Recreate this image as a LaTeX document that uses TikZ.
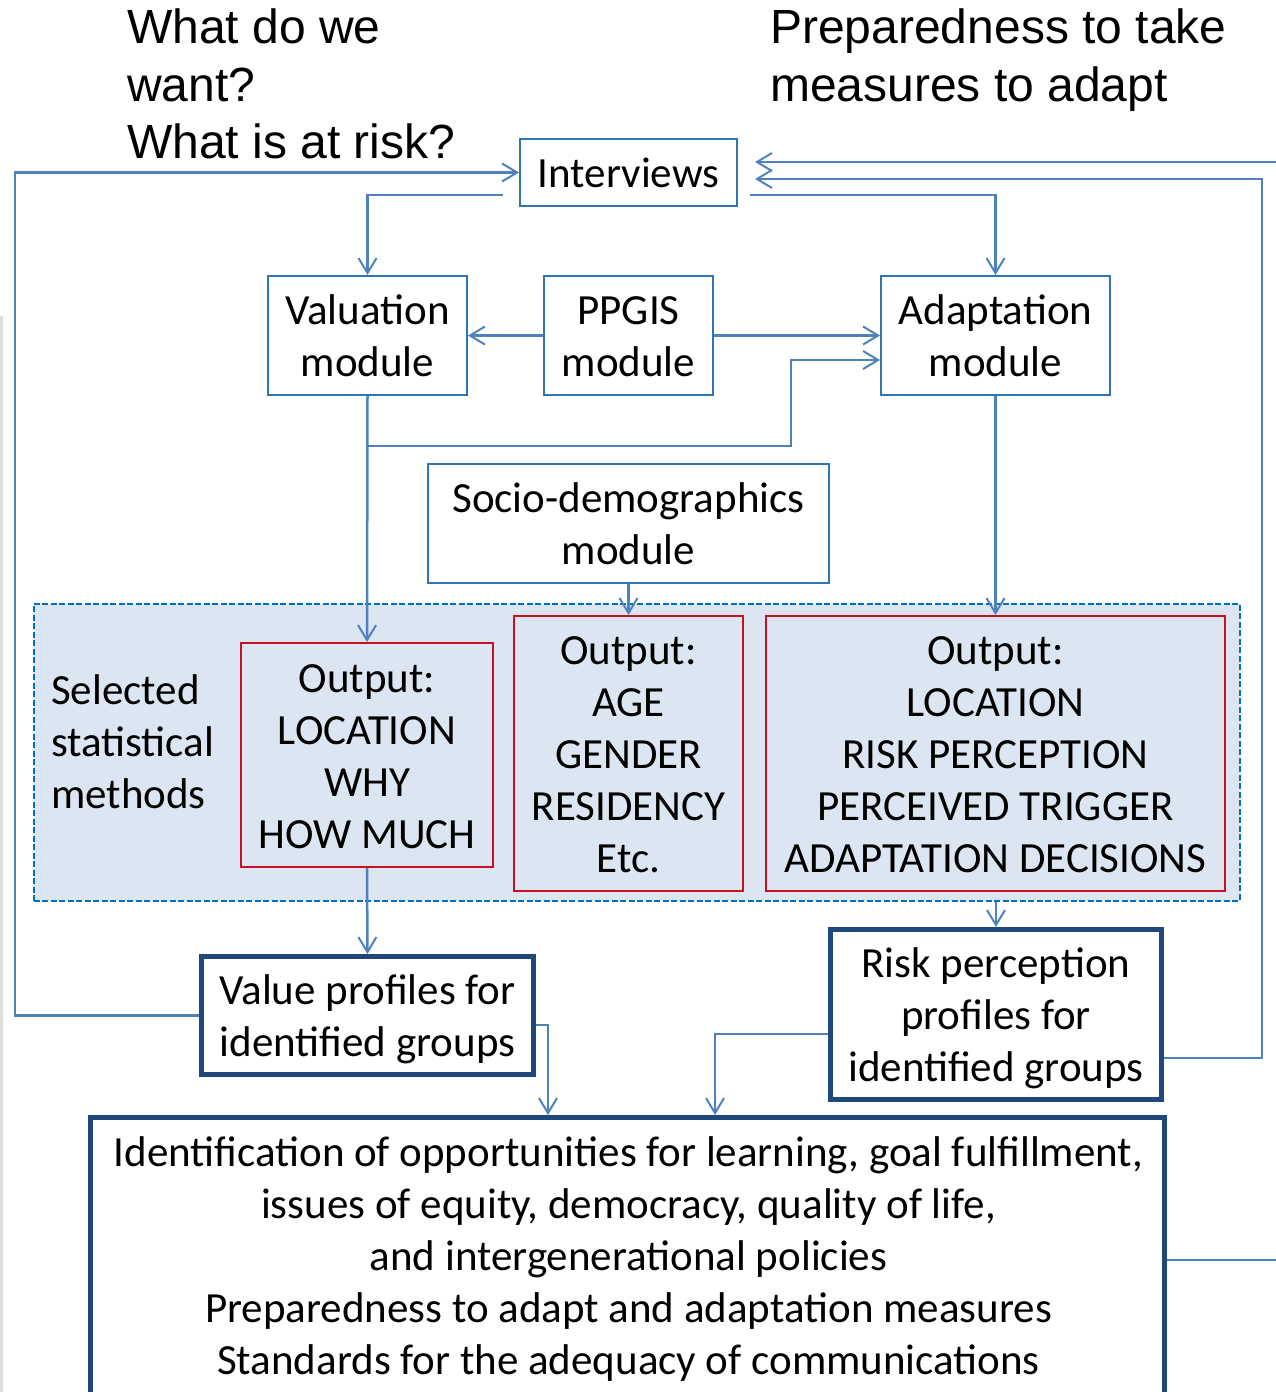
\documentclass[tikz,border=0pt]{standalone}
\usepackage{fontspec}
\setmainfont{Carlito}
\newfontfamily\arialf{Liberation Sans}
\usetikzlibrary{arrows.meta,calc}
\definecolor{boxblue}{HTML}{2E75B6}
\definecolor{linkblue}{HTML}{4F81BD}
\definecolor{navy}{HTML}{1F497D}
\definecolor{redline}{HTML}{C8101E}
\definecolor{panelfill}{HTML}{DCE6F2}
\definecolor{panelline}{HTML}{0070C0}
\definecolor{stripgray}{HTML}{E0DED8}
\begin{document}
\begin{tikzpicture}[x=1pt,y=-1pt,
  every node/.style={font=\fontsize{43}{52}\selectfont, align=center, inner sep=0pt},
  lineone/.style={text height=39pt, text depth=9pt},
  linetwo/.style={text height=91pt, text depth=9pt},
  linethree/.style={text height=143pt, text depth=9pt},
  linefour/.style={text height=195pt, text depth=9pt},
  linefive/.style={text height=247pt, text depth=9pt},
  thinbox/.style={draw=boxblue, line width=2pt},
  redbox/.style={draw=redline, line width=2pt},
  thickbox/.style={draw=navy, line width=5pt},
  link/.style={draw=linkblue, line width=2.5pt, -{Straight Barb[length=15pt,width=18pt,line width=2pt]}},
  plainlink/.style={draw=linkblue, line width=2.5pt},
  toptext/.style={font=\arialf\fontsize{48}{57.5}\selectfont, align=left}
]
\useasboundingbox (0,0) rectangle (1276,1392);
\clip (0,0) rectangle (1276,1392);
\fill[stripgray] (0,316) rectangle (3,1392);

\node[toptext, anchor=north west] (want) at (127,9) {What do we\\want?\\What is at risk?};
\node[toptext, anchor=north west] (prep) at (770,9) {Preparedness to take\\measures to adapt};

\node[thinbox, lineone, minimum width=217, minimum height=67] (int) at (628.5,172.5) {Interviews};
\node[thinbox, linetwo, minimum width=199, minimum height=119] (val) at (367.5,335.5) {Valuation\\module};
\node[thinbox, linetwo, minimum width=169, minimum height=119] (ppg) at (628.5,335.5) {PPGIS\\module};
\node[thinbox, linetwo, minimum width=229, minimum height=119] (ada) at (995.5,335.5) {Adaptation\\module};
\node[thinbox, linetwo, minimum width=401, minimum height=119] (soc) at (628.5,523.5) {Socio-demographics\\module};

\node[draw=panelline, fill=panelfill, line width=2pt, dash pattern=on 6pt off 2.5pt,
      minimum width=1206, minimum height=297] (panel) at (636.5,752) {};
\node[anchor=west, align=left] (methods) at (51,742) {Selected\\statistical\\methods};
\node[redbox, linefour, minimum width=252, minimum height=224] (out1) at (367,755) {Output:\\LOCATION\\WHY\\HOW MUCH};
\node[redbox, linefive, minimum width=229, minimum height=275] (out2) at (628.5,753.5) {Output:\\AGE\\GENDER\\RESIDENCY\\Etc.};
\node[redbox, linefive, minimum width=459, minimum height=275] (out3) at (995.5,753.5) {Output:\\LOCATION\\RISK PERCEPTION\\PERCEIVED TRIGGER\\ADAPTATION DECISIONS};

\node[thickbox, linetwo, minimum width=332, minimum height=118] (vp) at (367.5,1015.5) {Value profiles for\\identified groups};
\node[thickbox, linethree, minimum width=331, minimum height=170] (rp) at (996,1014.5) {Risk perception\\profiles for\\identified groups};
\node[thickbox, minimum width=1074, minimum height=330, anchor=north west] (bot) at (88,1115) {};
\node[linefive] (bottxt) at (628.5,1255.5) {Identification of opportunities for learning, goal fulfillment,\\issues of equity, democracy, quality of life,\\and intergenerational policies\\Preparedness to adapt and adaptation measures\\Standards for the adequacy of communications};

% connectors
\draw[link] ($(int.west)+(-16,22.5)$) -| (val.north);
\draw[link] ($(int.east)+(12,22.5)$) -| (ada.north);
\draw[link] (ppg.west) -- (val.east);
\draw[link] (ppg.east) -- (ada.west);
\draw[link] (val.south) -- (out1.north);
\coordinate (br) at ($(val.south)+(0,50)$);
\draw[link] (br) -| ($(ada.west)+(-89,24.5)$) -- ($(ada.west)+(0,24.5)$);
\draw[link] (soc.south) -- (out2.north);
\draw[link] (ada.south) -- (out3.north);
\draw[link] (out1.south) -- (vp.north);
\draw[link] (panel.south -| rp.north) -- (rp.north);
\draw[link] (vp.west) -- ++(-184,0) |- (int.west);
\draw[link] ($(rp.east)+(0,43.5)$) -- ++(98,0) |- ($(int.east)+(17,6.5)$);
\draw[link] ($(int.east)+(552,-10.5)$) -- ($(int.east)+(17,-10.5)$);
\draw[plainlink] ($(bot.north east)+(0,145)$) -- ++(120,0);
\draw[link] ($(vp.east)+(0,9.5)$) -| ($(bot.north west)+(460,0)$);
\draw[link] ($(rp.west)+(0,19.5)$) -| ($(bot.north west)+(627,0)$);
\end{tikzpicture}
\end{document}
